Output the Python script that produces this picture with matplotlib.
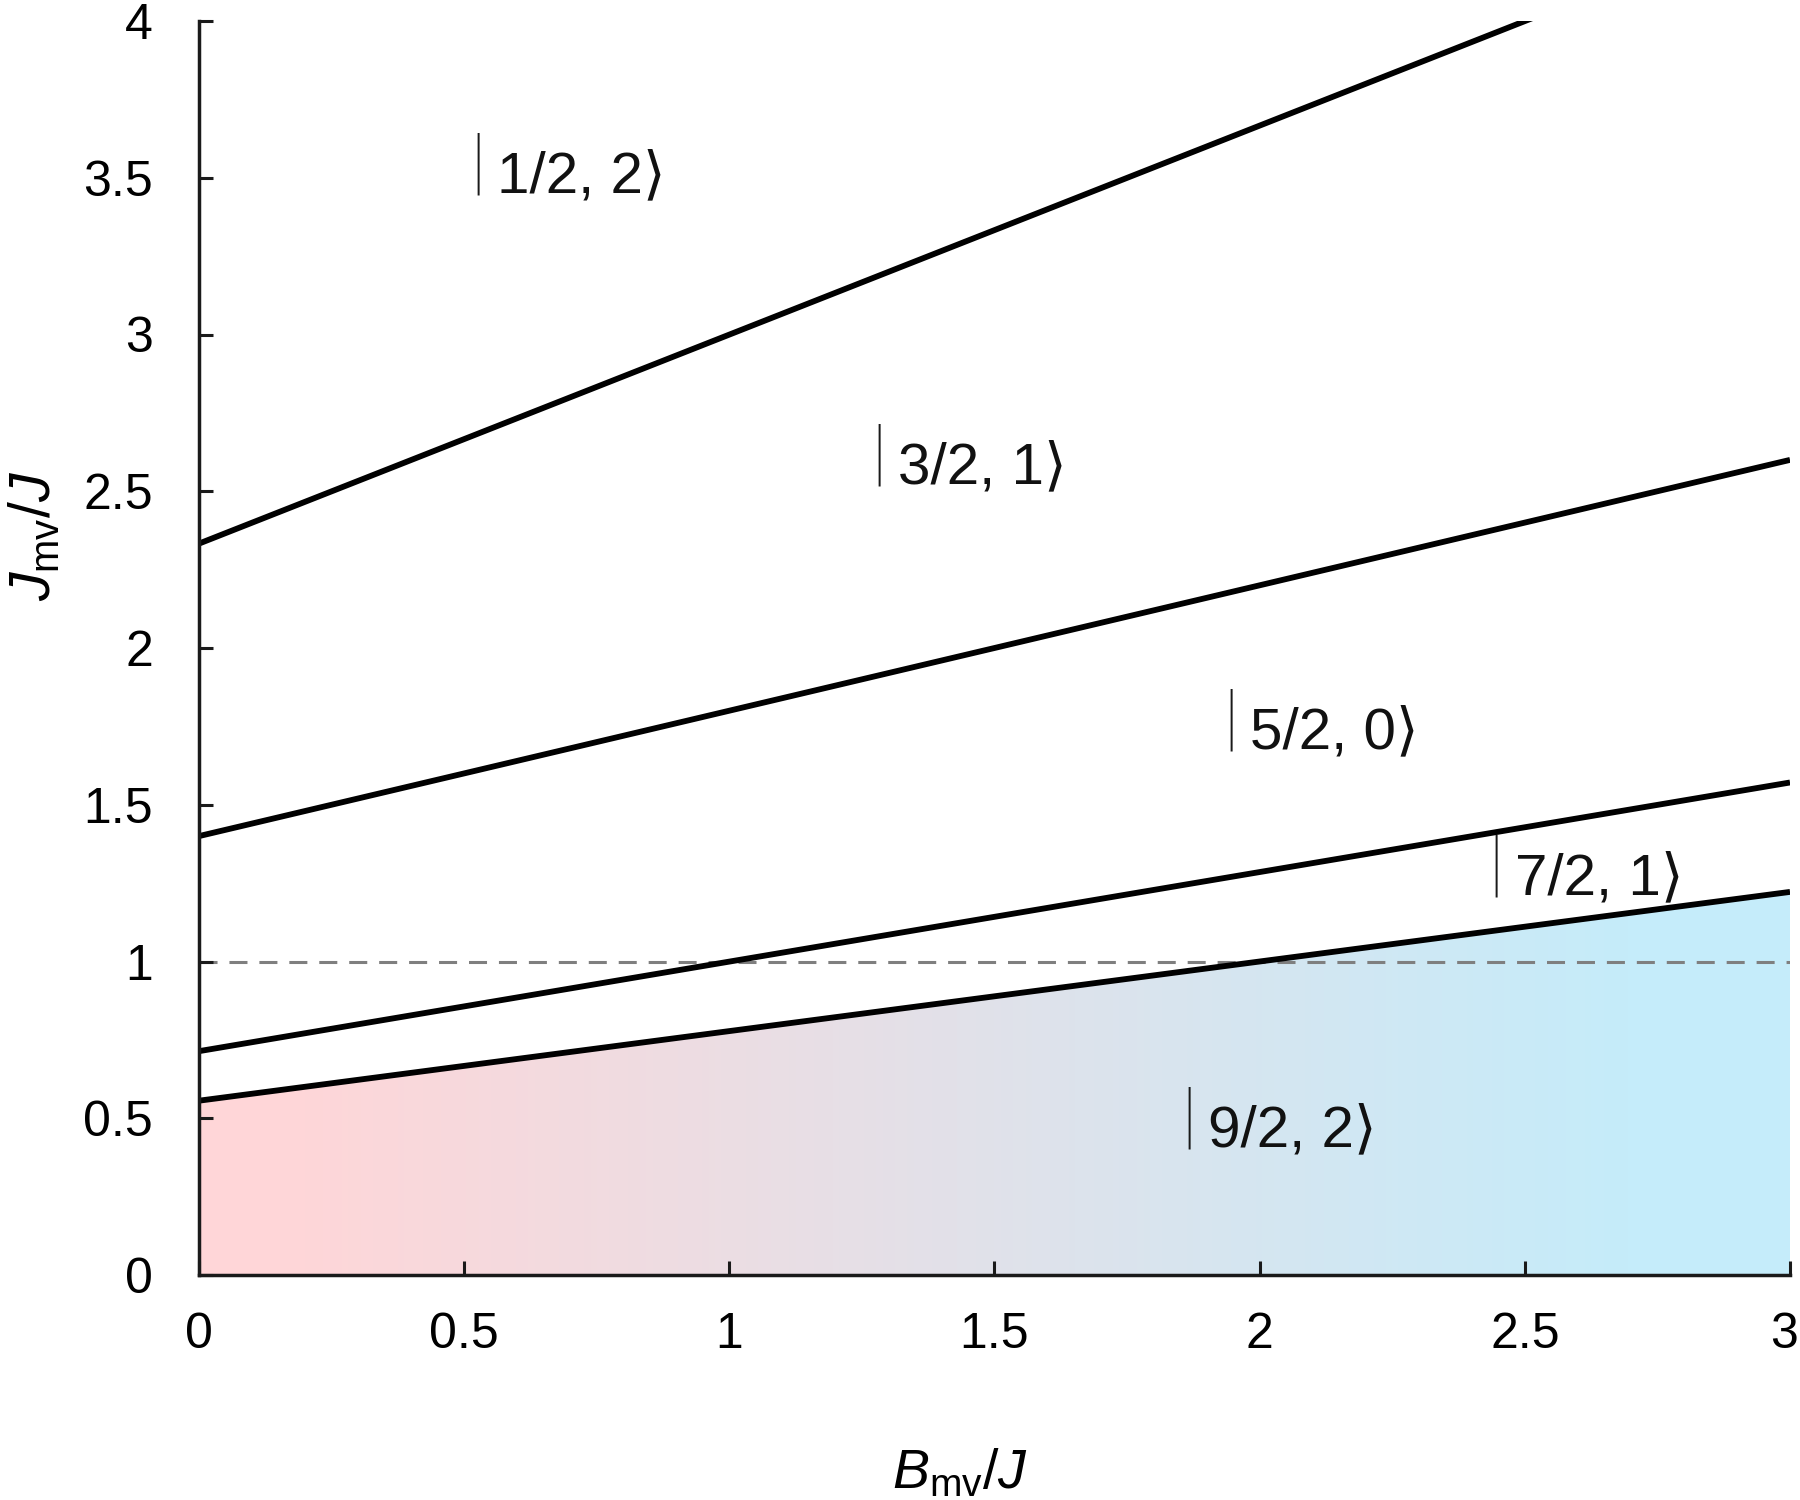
import numpy as np
import matplotlib
matplotlib.use("Agg")
import matplotlib.pyplot as plt
from matplotlib.colors import LinearSegmentedColormap
from matplotlib.transforms import ScaledTranslation

# ---------------- data ----------------
b_field = [0.0, 3.0]                 # B_mv / J
boundary_12_32 = [2.333, 4.333]      # |1/2,2> / |3/2,1>
boundary_32_52 = [1.400, 2.600]      # |3/2,1> / |5/2,0>
boundary_52_72 = [0.714, 1.571]      # |5/2,0> / |7/2,1>
boundary_72_92 = [0.556, 1.222]      # |7/2,1> / |9/2,2>
reference_level = 1.0

state_labels = ["1/2, 2", "3/2, 1", "5/2, 0", "7/2, 1", "9/2, 2"]
label_x = [0.526, 1.281, 1.946, 2.445, 1.866]
label_y = [3.540, 2.612, 1.767, 1.300, 0.497]

x_ticks = [0, 0.5, 1, 1.5, 2, 2.5, 3]
x_tick_labels = ["0", "0.5", "1", "1.5", "2", "2.5", "3"]
y_ticks = [0, 0.5, 1, 1.5, 2, 2.5, 3, 3.5, 4]
y_tick_labels = ["0", "0.5", "1", "1.5", "2", "2.5", "3", "3.5", "4"]

# ---------------- style ----------------
plt.rcParams['font.family'] = ['Liberation Sans', 'DejaVu Sans']
plt.rcParams['mathtext.fontset'] = 'custom'
plt.rcParams['mathtext.rm'] = 'Liberation Sans'
plt.rcParams['mathtext.it'] = 'Liberation Sans:italic'

fig = plt.figure(figsize=(18, 15), dpi=100)
ax = fig.add_axes([199/1800, 1 - 1275/1500, (1790-199)/1800, (1275-21)/1500])

ax.set_xlim(0, 3)
ax.set_ylim(0, 4)

# gradient fill under lowest boundary
poly = ax.fill_between(b_field, 0, boundary_72_92, facecolor='none', edgecolor='none')
cmap = LinearSegmentedColormap.from_list(
    'pb', [(0.0, '#FFD6D8'), (0.05, '#FFD6D8'), (0.9, '#C5ECFA'), (1.0, '#C5ECFA')])
grad = np.linspace(0, 1, 512).reshape(1, -1)
im = ax.imshow(grad, cmap=cmap, extent=[0, 3, 0, 4], aspect='auto',
               origin='lower', zorder=0)
path = poly.get_paths()[0]
im.set_clip_path(path, transform=ax.transData)

# dashed reference line
ax.axhline(reference_level, color='#7f7f7f', lw=2.2, dashes=(5.9, 3.9), zorder=1)

# boundaries
for yv in [boundary_12_32, boundary_32_52, boundary_52_72, boundary_72_92]:
    ax.plot(b_field, yv, color='black', lw=4.2, solid_capstyle='butt', zorder=2)

# state labels: |  ...  ⟩
for s, xx, yy in zip(state_labels, label_x, label_y):
    ax.annotate("|", (xx, yy), fontsize=54, ha='center', va='center',
                family=['Roboto', 'Liberation Sans'], fontweight='light',
                color='#1a1a1a', zorder=3)
    ax.annotate(s + "\u27E9", (xx, yy), xytext=(14, -19.5),
                textcoords='offset points', fontsize=42, ha='left',
                va='baseline', color='#111111', zorder=3)

# axes styling
for side in ['top', 'right']:
    ax.spines[side].set_visible(False)
for side in ['left', 'bottom']:
    ax.spines[side].set_linewidth(2.5)
    ax.spines[side].set_color('#1a1a1a')

ax.set_xticks(x_ticks)
ax.set_xticklabels(x_tick_labels)
ax.set_yticks(y_ticks)
ax.set_yticklabels(y_tick_labels)
ax.tick_params(axis='both', direction='in', length=10, width=2.2, labelsize=36,
               color='#1a1a1a')
ax.tick_params(axis='x', pad=27)
ax.tick_params(axis='y', pad=33)

last = ax.get_xticklabels()[-1]
last.set_transform(last.get_transform() + ScaledTranslation(-6/100, 0, fig.dpi_scale_trans))

ax.set_xlabel(r"$B_{\mathrm{mv}}/J$", fontsize=40)
ax.xaxis.set_label_coords(0.478, -0.138)
ax.set_ylabel(r"$J_{\mathrm{mv}}/J$", fontsize=41)
ax.yaxis.set_label_coords(-0.086, 0.589)

fig.savefig("out.png", dpi=100)
